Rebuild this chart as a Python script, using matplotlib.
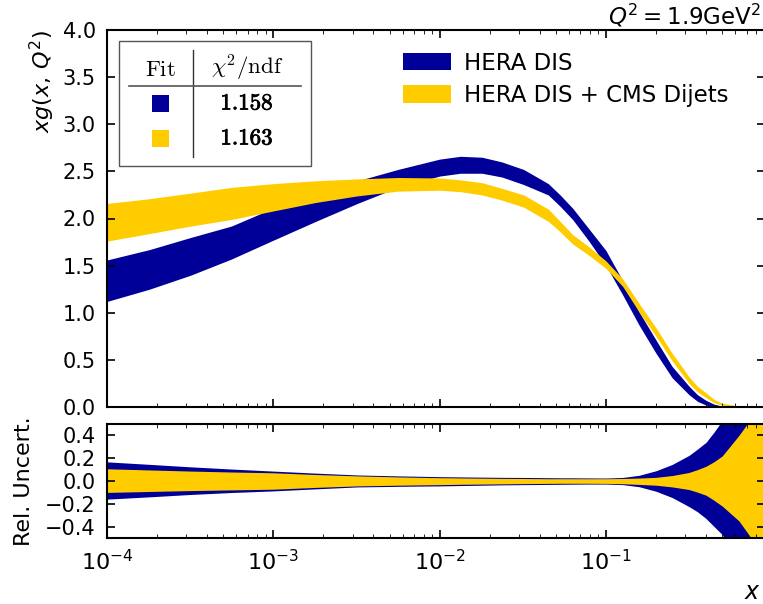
import numpy as np
import matplotlib
matplotlib.use('Agg')
import matplotlib.pyplot as plt
import matplotlib.patheffects as pe
from matplotlib.patches import Rectangle, Patch
from matplotlib.lines import Line2D

plt.rcParams['font.family'] = 'DejaVu Sans'
plt.rcParams['font.size'] = 15
plt.rcParams['axes.linewidth'] = 1.5
plt.rcParams['xtick.direction'] = 'in'
plt.rcParams['ytick.direction'] = 'in'
plt.rcParams['xtick.top'] = True
plt.rcParams['ytick.right'] = True
plt.rcParams['xtick.major.size'] = 6
plt.rcParams['ytick.major.size'] = 6
plt.rcParams['xtick.minor.size'] = 3
plt.rcParams['xtick.major.width'] = 1.2
plt.rcParams['ytick.major.width'] = 1.2
plt.rcParams['xtick.major.pad'] = 8
plt.rcParams['ytick.major.pad'] = 8

col_hera = '#000099'
col_cms = '#ffcc00'

# x grid of the gluon at Q^2 = 1.9 GeV^2
x = [1.0e-4, 1.8e-4, 3.2e-4, 5.6e-4, 1.0e-3, 1.8e-3, 3.2e-3, 5.6e-3,
     1.0e-2, 1.33e-2, 1.8e-2, 2.37e-2, 3.2e-2, 4.5e-2, 5.3e-2, 6.3e-2,
     7.9e-2, 0.1, 0.126, 0.158, 0.2, 0.25, 0.316, 0.355, 0.4, 0.447, 0.5,
     0.63, 0.79, 0.91]

# xg band, HERA DIS only
hera_lo = [1.12, 1.25, 1.40, 1.57, 1.77, 1.97, 2.16, 2.33, 2.45, 2.48, 2.48,
           2.44, 2.36, 2.25, 2.13, 1.99, 1.76, 1.50, 1.19, 0.87, 0.57, 0.31,
           0.13, 0.06, 0.02, 0.0, 0.0, 0.0, 0.0, 0.0]
hera_hi = [1.56, 1.67, 1.80, 1.92, 2.11, 2.26, 2.40, 2.52, 2.63, 2.66, 2.65,
           2.60, 2.52, 2.37, 2.25, 2.11, 1.89, 1.66, 1.34, 1.01, 0.71, 0.43,
           0.22, 0.13, 0.07, 0.03, 0.01, 0.0, 0.0, 0.0]

# xg band, HERA DIS + CMS dijets
cms_lo = [1.76, 1.84, 1.92, 1.99, 2.08, 2.17, 2.24, 2.29, 2.30, 2.285, 2.25,
          2.195, 2.12, 1.97, 1.86, 1.73, 1.61, 1.47, 1.28, 1.01, 0.75, 0.49,
          0.25, 0.16, 0.10, 0.045, 0.02, 0.0, 0.0, 0.0]
cms_hi = [2.16, 2.21, 2.27, 2.33, 2.37, 2.40, 2.42, 2.435, 2.43, 2.41, 2.38,
          2.32, 2.25, 2.10, 1.97, 1.83, 1.70, 1.55, 1.36, 1.10, 0.84, 0.57,
          0.32, 0.22, 0.15, 0.08, 0.04, 0.01, 0.0, 0.0]

# relative uncertainties (upper / lower)
hera_rel_up = [0.168, 0.146, 0.124, 0.105, 0.087, 0.069, 0.053, 0.045, 0.038,
               0.036, 0.034, 0.032, 0.031, 0.029, 0.028, 0.028, 0.027, 0.026,
               0.031, 0.05, 0.09, 0.145, 0.225, 0.28, 0.34, 0.43, 0.53, 0.85,
               1.4, 2.0]
hera_rel_dn = [0.159, 0.139, 0.118, 0.101, 0.087, 0.069, 0.052, 0.047, 0.043,
               0.040, 0.037, 0.034, 0.032, 0.030, 0.029, 0.028, 0.027, 0.027,
               0.032, 0.05, 0.09, 0.145, 0.225, 0.27, 0.33, 0.40, 0.47, 0.75,
               1.2, 1.8]
cms_rel_up = [0.107, 0.097, 0.087, 0.079, 0.072, 0.057, 0.045, 0.036, 0.029,
              0.027, 0.025, 0.023, 0.022, 0.020, 0.020, 0.020, 0.020, 0.020,
              0.022, 0.026, 0.032, 0.048, 0.075, 0.10, 0.13, 0.17, 0.22, 0.40,
              0.6, 0.9]
cms_rel_dn = [0.100, 0.092, 0.084, 0.078, 0.072, 0.056, 0.043, 0.037, 0.032,
              0.029, 0.027, 0.025, 0.023, 0.021, 0.020, 0.020, 0.020, 0.021,
              0.024, 0.030, 0.037, 0.052, 0.075, 0.098, 0.125, 0.17, 0.22,
              0.35, 0.55, 0.8]

fits = ['HERA DIS', 'HERA DIS + CMS Dijets']
chi2 = ['1.158', '1.163']

W, H = 763, 604
fig = plt.figure(figsize=(W / 100.0, H / 100.0), dpi=100)


def fx(p):
    return p / float(W)


def fy(p):
    return 1 - p / float(H)


ax = fig.add_axes([fx(107), fy(407), fx(765) - fx(107), fy(30) - fy(407)])
ax2 = fig.add_axes([fx(107), fy(538), fx(765) - fx(107), fy(424) - fy(538)])

xa = np.array(x)

# upper panel
ax.fill_between(xa, hera_lo, hera_hi, color=col_hera, lw=0)
ax.fill_between(xa, cms_lo, cms_hi, color=col_cms, lw=0)
ax.set_xscale('log')
ax.set_xlim(1e-4, 0.904)
ax.set_ylim(0, 4.0)
ax.set_yticks(np.arange(0, 4.01, 0.5))
ax.set_yticklabels(['%.1f' % v for v in np.arange(0, 4.01, 0.5)])
ax.tick_params(labelbottom=False)
ax.set_ylabel(r'$xg(x,\,Q^2)$', fontsize=16, loc='top', labelpad=4)

leg = ax.legend(handles=[Patch(color=col_hera, lw=0), Patch(color=col_cms, lw=0)],
                labels=fits, loc='upper left', frameon=False, fontsize=16.5,
                bbox_to_anchor=(fx(382), fy(31)), bbox_transform=fig.transFigure,
                handlelength=2.1, handleheight=0.8, handletextpad=0.6,
                labelspacing=0.4, borderpad=0.4)

fig.text(fx(761), fy(24), r'$Q^2 = 1.9\mathrm{GeV}^2$', ha='right',
         va='baseline', fontsize=16.5)

# fit table
tfont = dict(math_fontfamily='cm', fontsize=16.5, ha='center', va='center')
bold = [pe.withStroke(linewidth=0.6, foreground='black')]
fig.patches.append(Rectangle((fx(119), fy(166)), fx(311) - fx(119), fy(41) - fy(166),
                             transform=fig.transFigure, fill=False,
                             edgecolor='#555555', lw=1.0))
fig.lines.append(Line2D([fx(193), fx(193)], [fy(50), fy(157)],
                        transform=fig.transFigure, color='#333333', lw=1.0))
fig.lines.append(Line2D([fx(129), fx(301)], [fy(86), fy(86)],
                        transform=fig.transFigure, color='#555555', lw=1.2))
fig.text(fx(160), fy(69), r'$\mathrm{Fit}$', **tfont)
fig.text(fx(247), fy(68), r'$\chi^2/\mathrm{ndf}$', **tfont)
rows_y = [103, 138]
for c, v, yy in zip([col_hera, col_cms], chi2, rows_y):
    fig.patches.append(Rectangle((fx(152), fy(yy + 8.5)), fx(17), fy(0) - fy(17),
                                 transform=fig.transFigure, color=c, lw=0))
    fig.text(fx(247), fy(yy), r'$\mathbf{%s}$' % v, path_effects=bold, **tfont)

# lower panel: relative uncertainties
ax2.fill_between(xa, -np.array(hera_rel_dn), hera_rel_up, color=col_hera, lw=0)
ax2.fill_between(xa, -np.array(cms_rel_dn), cms_rel_up, color=col_cms, lw=0)
ax2.set_xscale('log')
ax2.set_xlim(1e-4, 0.904)
ax2.set_ylim(-0.5, 0.5)
ax2.set_yticks([-0.4, -0.2, 0.0, 0.2, 0.4])
ax2.set_yticklabels(['\u22120.4', '\u22120.2', '0.0', '0.2', '0.4'])
ax2.set_ylabel('Rel. Uncert.', fontsize=16, labelpad=8)
ax2.set_xlabel('$x$', fontsize=17, ha='right')
ax2.xaxis.set_label_coords(0.993, -0.37)
ax2.tick_params(axis='x', labelsize=16)

fig.savefig('out.png', dpi=100)
